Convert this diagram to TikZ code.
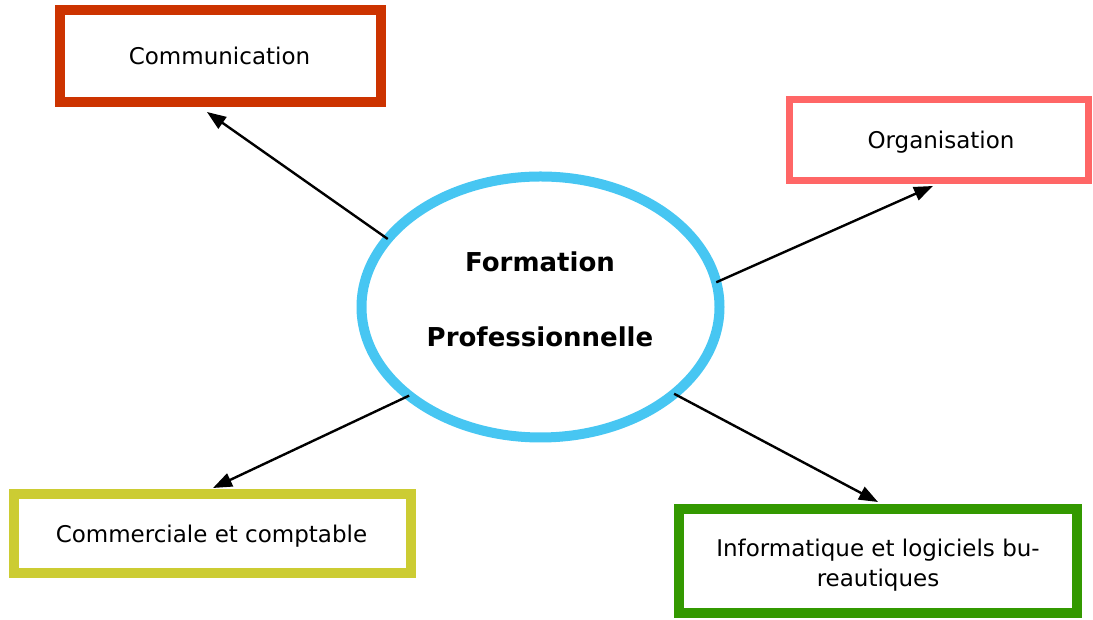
\documentclass[tikz,border=0pt]{standalone}
\usepackage{fontspec}
\setmainfont{DejaVu Sans}
\usetikzlibrary{shapes.geometric,arrows.meta}
\definecolor{cComm}{HTML}{CC3300}
\definecolor{cOrg}{HTML}{FF6666}
\definecolor{cCom}{HTML}{CCCC33}
\definecolor{cInfo}{HTML}{339900}
\definecolor{cEll}{HTML}{47C6F2}
\tikzset{
  box/.style={draw, rectangle, inner sep=0pt, outer sep=0pt},
  lbl/.style={inner sep=0pt, align=center, font=\fontsize{23}{30}\selectfont},
  centre/.style={draw=cEll, ellipse, line width=10pt, inner sep=0pt, outer sep=0pt, minimum width=358pt, minimum height=261pt},
  big/.style={font=\fontsize{26}{30}\selectfont\bfseries, anchor=base, inner sep=0pt},
  link/.style={line width=2.4pt, -{Triangle[length=19pt,width=14pt]}}
}
\begin{document}
\begin{tikzpicture}[x=1pt,y=1pt]
\useasboundingbox (0,0) rectangle (1093,620);
\node[centre] (ell) at (540.5,313) {};
\node[big] (f1) at (540,348) {Formation};
\node[big] (f2) at (540,273) {Professionnelle};
\node[box, draw=cComm, line width=10pt, minimum width=321pt, minimum height=92pt] (comm) at (220.5,564) {};
\node[box, draw=cOrg, line width=7pt, minimum width=299pt, minimum height=81pt] (org) at (939,480) {};
\node[box, draw=cCom, line width=10pt, minimum width=397pt, minimum height=79pt] (com) at (212.5,86.5) {};
\node[box, draw=cInfo, line width=10pt, minimum width=398pt, minimum height=104pt] (info) at (878,59) {};
\node[lbl] (commt) at ([xshift=-1pt]comm.center) {Communication};
\node[lbl] (orgt) at ([xshift=2pt,yshift=-2pt]org.center) {Organisation};
\node[lbl] (comt) at ([xshift=-1pt,yshift=-3pt]com.center) {Commerciale et comptable};
\node[lbl] (infot) at ([yshift=-4pt]info.center) {Informatique et logiciels bu-\\reautiques};
\coordinate (t1) at (207,508);
\coordinate (t2) at (933,434);
\coordinate (t3) at (213,132);
\coordinate (t4) at (878,118);
\draw[link] (ell.156) -- (t1);
\draw[link] (ell.8.7) -- (t2);
\draw[link] (ell.214.7) -- (t3);
\draw[link] (ell.327.6) -- (t4);
\end{tikzpicture}
\end{document}
